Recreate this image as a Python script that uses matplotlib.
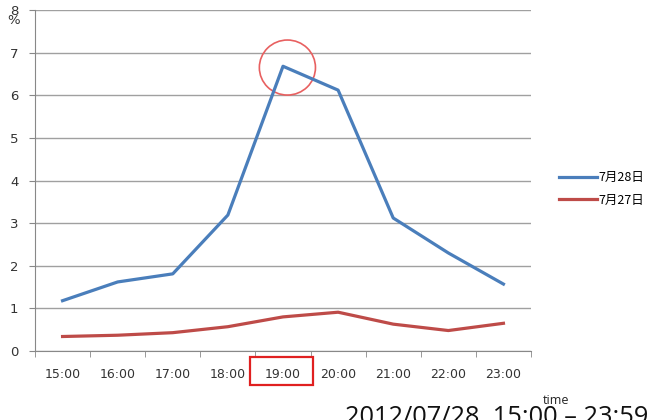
import numpy as np
import matplotlib.pyplot as plt
from matplotlib.patches import Ellipse, Rectangle

plt.rcParams['font.family'] = ['Noto Sans CJK JP', 'DejaVu Sans']

hours = ['15:00', '16:00', '17:00', '18:00', '19:00', '20:00', '21:00', '22:00', '23:00']
jul28 = [1.18, 1.62, 1.81, 3.19, 6.68, 6.12, 3.12, 2.30, 1.57]
jul27 = [0.34, 0.37, 0.43, 0.57, 0.80, 0.91, 0.63, 0.48, 0.65]
labels = ['7月28日', '7月27日']

W, H = 656, 420
fig = plt.figure(figsize=(W / 100, H / 100), dpi=100)
ax = fig.add_axes([35 / W, 1 - 351 / H, (531 - 35) / W, (351 - 10) / H])

x = np.arange(len(hours))
ax.plot(x, jul28, color='#4a7ebb', lw=2.3, label=labels[0])
ax.plot(x, jul27, color='#be4b48', lw=2.3, label=labels[1])

ax.set_xlim(-0.5, len(hours) - 0.5)
ax.set_ylim(0, 8)
ax.set_yticks(range(9))
ax.yaxis.grid(True, color='#a0a0a0', lw=1)
ax.set_axisbelow(True)

ax.set_xticks(x)
ax.set_xticklabels(hours, fontsize=9, color='#333333', family='DejaVu Sans')
ax.set_xticks(np.arange(-0.5, len(hours)), minor=True)
ax.tick_params(axis='x', which='major', length=0, pad=12)
ax.tick_params(axis='x', which='minor', length=4, color='#888888')
ax.tick_params(axis='y', length=4, pad=8, color='#888888', labelsize=9.5, labelcolor='#333333')
for lab in ax.get_yticklabels():
    lab.set_family('DejaVu Sans')

for s in ['top', 'right']:
    ax.spines[s].set_visible(False)
for s in ['left', 'bottom']:
    ax.spines[s].set_color('#888888')

# "%" label just under the top tick label
fig.text(14 / W, 1 - 21 / H, '%', fontsize=9.5, color='#333333', ha='center', va='center', family='DejaVu Sans')

# red circle around the peak
ax.add_patch(Ellipse((4.08, 6.65), width=56 / 55, height=55 / 42.6, fill=False, ec='#e86060', lw=1.2))

# red box around 19:00 label
fig.patches.append(Rectangle((250 / W, 1 - 385 / H), 63 / W, 28 / H, transform=fig.transFigure,
                             fill=False, ec='#e02020', lw=1.6, figure=fig))

ax.legend(loc='center left', bbox_to_anchor=(548 / W, 1 - 189 / H), bbox_transform=fig.transFigure,
          frameon=False, fontsize=9, handlelength=3.0, handletextpad=0.1, labelspacing=0.75)

fig.text(543 / W, 1 - 401 / H, 'time', fontsize=9, color='#222222', family='Open Sans', va='center')
fig.text(345 / W, 1 - 405 / H, '2012/07/28  15:00 \u2013 23:59', fontsize=18.3, color='#111111',
         family='Open Sans', va='top', ha='left')

fig.savefig('out.png', dpi=100)
